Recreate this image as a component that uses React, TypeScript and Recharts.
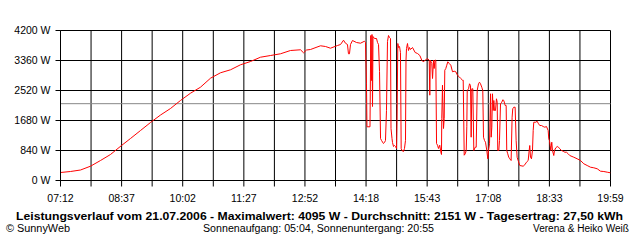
import React from "react";
import { LineChart, Line, XAxis, YAxis, CartesianGrid, ReferenceLine } from "recharts";

// minutes since midnight
const times = [
  432.0, 445.9, 459.9, 473.8, 487.8, 501.7, 517.1, 529.6, 543.6, 557.5, 571.5, 585.4, 599.3, 613.3, 627.2,
  641.2, 655.1, 669.1, 683.0, 697.0, 710.9, 724.9, 738.8, 752.7, 766.7, 770.9, 775.1, 780.6, 794.6, 801.6,
  808.5, 818.3, 822.5, 826.7, 829.4, 832.2, 833.6, 835.0, 836.4, 839.2, 844.8, 850.4, 855.9, 857.3,
  858.7, 859.4, 863.6, 864.7, 865.7, 866.4, 867.1, 867.8, 869.9, 872.7, 874.1, 875.5, 876.9, 878.3, 879.7,
  882.4, 883.8, 885.2, 886.6, 888.0, 889.4, 890.8, 892.2, 892.9, 894.3, 895.0, 896.4, 897.8, 899.2, 900.6,
  901.3, 902.4, 903.4, 904.8, 906.1, 907.1, 908.2, 910.3, 911.7, 913.1, 913.8, 914.5, 915.9, 917.3, 918.7,
  920.1, 922.9, 926.6, 929.9, 933.1, 935.8, 937.8, 940.6, 943.8, 946.2, 947.0, 947.7, 949.8, 950.8, 952.2,
  953.1, 954.2, 955.4, 956.4, 957.8, 959.1, 960.9, 962.3, 963.3, 963.7, 964.7, 966.1, 967.1, 967.9, 969.3,
  970.7, 972.1, 974.1, 976.3, 978.7, 981.0, 983.3, 985.6, 988.0, 990.2, 992.6, 993.6, 995.0, 996.4, 997.8,
  998.6, 999.2, 1001.0, 1002.4, 1003.8, 1004.7, 1005.6, 1007.0, 1008.4, 1010.3, 1011.7, 1013.1, 1014.9, 1016.3, 1017.7,
  1019.5, 1020.9, 1021.9, 1023.3, 1024.7, 1026.5, 1027.9, 1028.9, 1030.3, 1031.7, 1032.6, 1033.5, 1034.4, 1035.4, 1036.3,
  1037.2, 1038.6, 1040.0, 1041.0, 1041.8, 1043.2, 1044.2, 1045.6, 1047.4, 1048.8, 1050.2, 1052.1, 1053.5, 1054.3, 1055.7,
  1057.1, 1058.5, 1060.4, 1061.8, 1062.7, 1064.1, 1066.0, 1067.4, 1068.8, 1070.2, 1072.5, 1077.2, 1079.5, 1081.8, 1084.2,
  1085.6, 1086.4, 1087.4, 1088.8, 1090.2, 1091.2, 1092.0, 1094.8, 1096.7, 1098.1, 1100.4, 1102.8, 1105.1, 1107.4, 1109.7,
  1112.1, 1112.9, 1113.9, 1114.9, 1115.7, 1117.1, 1118.1, 1119.9, 1120.9, 1122.7, 1124.7, 1126.5, 1128.3, 1130.7, 1133.0,
  1135.3, 1137.6, 1140.0, 1142.2, 1147.8, 1152.5, 1157.2, 1161.8, 1166.5, 1171.1, 1175.7, 1180.5, 1185.1, 1189.7, 1194.5,
  1199.0,
];

// power in W
const watts = [
  224, 252, 294, 400, 560, 728, 980, 1176, 1400, 1624, 1834, 2016, 2240, 2444, 2612,
  2864, 3016, 3100, 3240, 3332, 3452, 3500, 3548, 3640, 3660, 3576, 3654, 3668, 3772, 3752,
  3704, 3780, 3808, 3928, 3844, 3808, 3548, 3548, 3808, 3920, 3864, 3844, 3900, 3864,
  2716, 1504, 1504, 4060, 2800, 4088, 2072, 4032, 3976, 3976, 3864, 3808, 3052, 1176, 1120,
  1036, 1064, 1120, 1960, 3892, 4060, 4004, 3976, 1456, 1176, 1064, 952, 980, 952, 896,
  1680, 3836, 3724, 3752, 3584, 896, 840, 812, 896, 1120, 3360, 3696, 3836, 3640, 3724,
  3668, 3724, 3584, 3556, 3500, 3368, 3324, 3368, 3416, 3368, 2388, 3368, 3276, 2856, 3368,
  3136, 3368, 3368, 1036, 988, 896, 988, 804, 728, 1736, 2668, 1456, 1736, 3088, 3136,
  3228, 3324, 3276, 3228, 3044, 3060, 3044, 2948, 2904, 2856, 2808, 2808, 708, 748, 840,
  1504, 2520, 2568, 2708, 2660, 1212, 2568, 2568, 840, 932, 932, 2520, 2708, 2752, 2708,
  2612, 2520, 1212, 1120, 1072, 840, 608, 840, 1028, 2428, 1212, 1492, 2428, 1960, 2240,
  1960, 1960, 2288, 2192, 840, 840, 1120, 2148, 2192, 2260, 2240, 2100, 2100, 840, 748,
  652, 608, 560, 1772, 2008, 2052, 2052, 1120, 652, 560, 420, 400, 440, 512, 560,
  840, 980, 652, 608, 840, 1400, 1632, 1632, 1660, 1604, 1540, 1540, 1512, 1492, 1512,
  1400, 1168, 1120, 980, 840, 1072, 840, 700, 840, 916, 952, 932, 888, 840, 820,
  792, 792, 748, 700, 652, 608, 560, 468, 420, 372, 356, 328, 260, 252, 232,
  216,
];

const averageW = 2151;

const xTickValues = [
  432, 474.6, 517.2, 559.8, 602.4, 645.1, 687.7, 730.3, 772.9, 815.5, 858.1, 900.7, 943.3, 985.9,
  1028.6, 1071.2, 1113.8, 1156.4, 1199,
];
const xTickLabels = ["07:12", "08:37", "10:02", "11:27", "12:52", "14:18", "15:43", "17:08", "18:33", "19:59"];
const yTickValues = [0, 840, 1680, 2520, 3360, 4200];

const titleText =
  "Leistungsverlauf vom 21.07.2006 - Maximalwert: 4095 W - Durchschnitt: 2151 W - Tagesertrag: 27,50 kWh";
const leftText = "\u00A9 SunnyWeb";
const centerText = "Sonnenaufgang: 05:04, Sonnenuntergang: 20:55";
const rightText = "Verena & Heiko Wei\u00DF";

const data = times.map((t, i) => ({ t, w: watts[i] }));

const FONT = "'Liberation Sans', Arial, sans-serif";

export default function App() {
  return (
    <div style={{ position: "absolute", left: 0, top: 0, width: 640, height: 240, background: "#fff" }}>
      <LineChart
        width={640}
        height={240}
        data={data}
        margin={{ top: 30.5, right: 29.5, bottom: 29.5, left: 0.5 }}
      >
        <CartesianGrid stroke="#000" strokeWidth={1} strokeDasharray="" />
        <XAxis
          dataKey="t"
          type="number"
          domain={[432, 1199]}
          ticks={xTickValues}
          interval={0}
          height={30}
          tickSize={6}
          tickMargin={8}
          stroke="#000"
          axisLine={{ stroke: "#000" }}
          tickLine={{ stroke: "#000" }}
          tick={{ fill: "#000", fontSize: 10.5, fontFamily: FONT }}
          tickFormatter={(v: number, i: number) => (i % 2 === 0 ? xTickLabels[i / 2] : "")}
          allowDataOverflow
        />
        <YAxis
          type="number"
          domain={[0, 4200]}
          ticks={yTickValues}
          interval={0}
          width={60}
          tickSize={5}
          tickMargin={5}
          axisLine={{ stroke: "#000" }}
          tickLine={{ stroke: "#000" }}
          tick={{ fill: "#000", fontSize: 10.5, fontFamily: FONT }}
          tickFormatter={(v: number) => `${v} W`}
        />
        <ReferenceLine y={averageW} stroke="#888" strokeWidth={1} ifOverflow="extendDomain" />
        <Line
          type="linear"
          dataKey="w"
          stroke="#ff0000"
          strokeWidth={1}
          dot={false}
          isAnimationActive={false}
        />
      </LineChart>
      <svg
        width={640}
        height={240}
        style={{ position: "absolute", left: 0, top: 0, pointerEvents: "none" }}
      >
        <text
          x={16}
          y={219.5}
          fontFamily={FONT}
          fontWeight="bold"
          fontSize={11}
          fill="#000"
          textLength={607}
          lengthAdjust="spacingAndGlyphs"
        >
          {titleText}
        </text>
        <text x={6} y={231.5} fontFamily={FONT} fontSize={10} fill="#000" textLength={64} lengthAdjust="spacingAndGlyphs">
          {leftText}
        </text>
        <text x={203} y={231.5} fontFamily={FONT} fontSize={10} fill="#000" textLength={231} lengthAdjust="spacingAndGlyphs">
          {centerText}
        </text>
        <text x={533} y={231.5} fontFamily={FONT} fontSize={10} fill="#000" textLength={96} lengthAdjust="spacingAndGlyphs">
          {rightText}
        </text>
      </svg>
    </div>
  );
}
